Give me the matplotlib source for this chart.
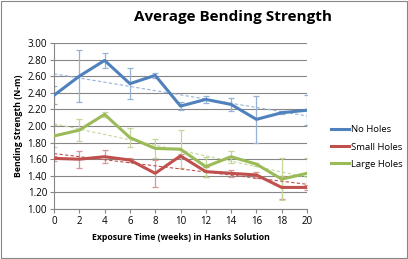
import numpy as np
import matplotlib.pyplot as plt

weeks = [0, 2, 4, 6, 8, 10, 12, 14, 16, 18, 20]
no_holes = [2.37, 2.60, 2.79, 2.51, 2.61, 2.24, 2.32, 2.26, 2.08, 2.16, 2.19]
no_holes_err = [0.11, 0.31, 0.09, 0.19, 0.03, 0.05, 0.04, 0.08, 0.28, 0.02, 0.18]
small_holes = [1.61, 1.60, 1.63, 1.59, 1.43, 1.64, 1.45, 1.43, 1.41, 1.26, 1.26]
small_holes_err = [0.03, 0.10, 0.08, 0.02, 0.16, 0.02, 0.06, 0.04, 0.04, 0.14, 0.03]
large_holes = [1.88, 1.95, 2.14, 1.86, 1.73, 1.72, 1.51, 1.63, 1.54, 1.36, 1.43]
large_holes_err = [0.13, 0.13, 0.03, 0.11, 0.11, 0.23, 0.12, 0.07, 0.02, 0.25, 0.18]

series = [("No Holes", no_holes, no_holes_err, "#4F81BD", "#95B3D7"),
          ("Small Holes", small_holes, small_holes_err, "#C0504D", "#D99694"),
          ("Large Holes", large_holes, large_holes_err, "#9BBB59", "#C3D69B")]

plt.rcParams['font.family'] = ['Open Sans', 'DejaVu Sans']

fig = plt.figure(figsize=(4.08, 2.59), dpi=100)
ax = fig.add_axes([54/408, 1 - 209/259, 253/408, 166/259])

x = np.array(weeks)
for name, y, err, col, light in series:
    ax.errorbar(x, y, yerr=err, fmt='none', ecolor=light, elinewidth=0.9,
                capsize=2.5, capthick=0.9, zorder=2)
for name, y, err, col, light in series:
    ax.plot(x, y, color=col, lw=2.2, label=name, zorder=3)
    m, b = np.polyfit(x, y, 1)
    ax.plot(x, m * x + b, color=light if name != "Small Holes" else col,
            lw=0.8, ls=(0, (3, 2)), zorder=2.5)

ax.set_xlim(0, 20)
ax.set_ylim(1.0, 3.0)
ax.set_xticks(weeks)
ax.set_yticks(np.arange(1.0, 3.01, 0.2))
ax.set_yticklabels([f"{v:.2f}" for v in np.arange(1.0, 3.01, 0.2)])
ax.tick_params(labelsize=7, length=3, color="#868686", pad=2)
ax.grid(axis='y', color="#868686", lw=0.8)
ax.set_axisbelow(True)
for s in ["top", "right"]:
    ax.spines[s].set_visible(False)
for s in ["left", "bottom"]:
    ax.spines[s].set_color("#868686")

ax.set_xlabel("Exposure Time (weeks) in Hanks Solution", fontsize=6.3,
              fontweight='bold', labelpad=4)
ax.set_ylabel("Bending Strength (N-m)", fontsize=6.3, fontweight='bold', labelpad=3)
fig.text(233/408, 1 - 17/259, "Average Bending Strength", fontsize=11,
         fontweight='bold', ha='center', va='center')

ax.legend(loc='upper left', bbox_to_anchor=(322/408, 1 - 117/259),
          bbox_transform=fig.transFigure, frameon=False, fontsize=6.8,
          handlelength=2.0, labelspacing=0.85, handletextpad=0.2)

fig.patches.append(plt.Rectangle((0.002, 0.003), 0.995, 0.993, transform=fig.transFigure,
                                 fill=False, edgecolor="#868686", lw=0.8))

fig.savefig("out.png", dpi=100)
